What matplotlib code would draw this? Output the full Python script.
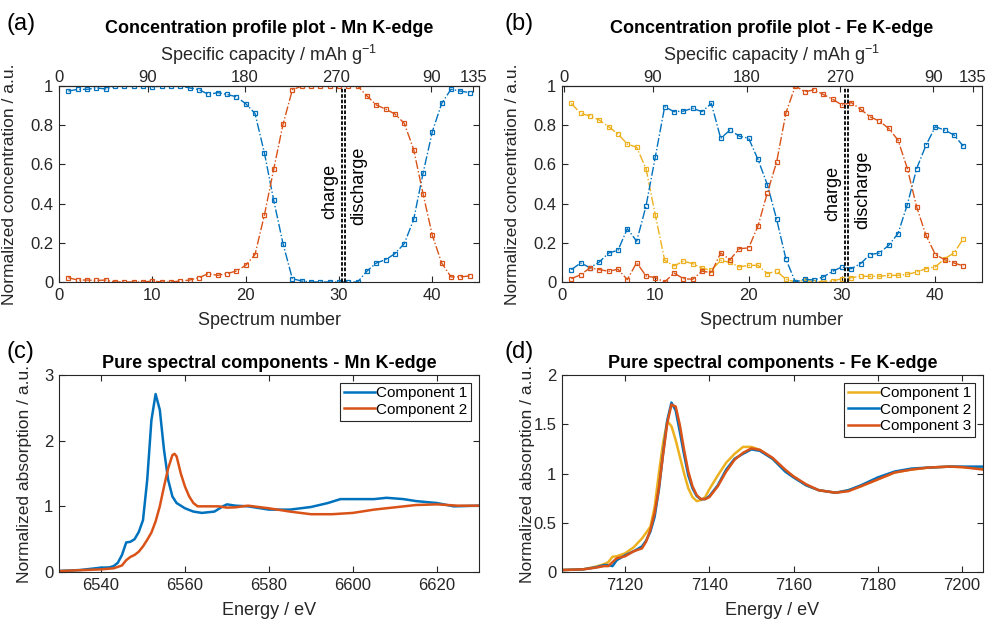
import matplotlib
matplotlib.use("Agg")
import matplotlib.pyplot as plt

plt.rcParams["font.family"] = ["Liberation Sans", "DejaVu Sans"]
plt.rcParams["mathtext.default"] = "regular"

BLUE = "#0072BD"
ORANGE = "#D95319"
YELLOW = "#EDB120"
GREY = "#262626"

# concentration profiles (spectrum number -> fraction)
mn_spectra = list(range(1, 45))
mn_comp1 = [0.974, 0.983, 0.983, 0.99, 0.985, 1.0, 1.0, 1.0, 1.0, 0.995, 1.0, 1.0, 1.0, 0.99, 0.982,
            0.957, 0.966, 0.957, 0.945, 0.91, 0.86, 0.66, 0.418, 0.196, 0.017, 0.005, 0.0, 0.0, 0.0, 0.0,
            0.0, 0.0, 0.056, 0.097, 0.114, 0.145, 0.196, 0.319, 0.554, 0.767, 0.911, 0.983, 0.974, 0.966]
mn_comp2 = [0.022, 0.01, 0.01, 0.008, 0.01, 0.0, 0.0, 0.0, 0.0, 0.005, 0.0, 0.0, 0.005, 0.01, 0.022,
            0.043, 0.034, 0.043, 0.056, 0.085, 0.14, 0.34, 0.574, 0.804, 0.98, 1.0, 1.0, 1.0, 1.0, 1.0,
            1.0, 1.0, 0.949, 0.903, 0.882, 0.857, 0.809, 0.676, 0.451, 0.238, 0.097, 0.026, 0.026, 0.031]

fe_spectra = list(range(1, 44))
fe_comp1 = [0.911, 0.86, 0.847, 0.826, 0.792, 0.755, 0.704, 0.687, 0.579, 0.341, 0.111, 0.082, 0.106,
            0.094, 0.07, 0.06, 0.11, 0.10, 0.077, 0.085, 0.085, 0.043, 0.055, 0.014, 0.0, 0.009, 0.0,
            0.003, 0.005, 0.017, 0.022, 0.029, 0.029, 0.029, 0.034, 0.034, 0.039, 0.051, 0.068, 0.077,
            0.119, 0.148, 0.221]
fe_comp2 = [0.063, 0.097, 0.073, 0.102, 0.148, 0.162, 0.272, 0.208, 0.387, 0.639, 0.894, 0.869, 0.872,
            0.886, 0.869, 0.911, 0.733, 0.775, 0.744, 0.733, 0.625, 0.497, 0.319, 0.116, 0.0, 0.014, 0.01,
            0.026, 0.055, 0.077, 0.068, 0.094, 0.14, 0.148, 0.187, 0.247, 0.395, 0.579, 0.698, 0.792,
            0.775, 0.75, 0.693]
fe_comp3 = [0.017, 0.037, 0.072, 0.063, 0.055, 0.065, 0.012, 0.099, 0.031, 0.022, 0.0, 0.046, 0.017,
            0.014, 0.055, 0.048, 0.148, 0.114, 0.17, 0.174, 0.286, 0.455, 0.613, 0.864, 1.0, 0.971, 0.98,
            0.957, 0.932, 0.903, 0.915, 0.881, 0.843, 0.821, 0.784, 0.724, 0.579, 0.383, 0.238, 0.14,
            0.114, 0.097, 0.082]

# top axis: specific capacity labels at spectrum positions
mn_cap_pos = [0, 9.5, 19.9, 29.7, 39.9, 44.4]
fe_cap_pos = [0.2, 9.7, 19.8, 29.8, 39.8, 44.0]
cap_labels = ["0", "90", "180", "270", "90", "135"]

# pure spectral components
mn_energy = [6530, 6535, 6540, 6542, 6543, 6544, 6545, 6546, 6547, 6548, 6549, 6550, 6551, 6552, 6553,
             6554, 6555, 6556, 6557, 6558, 6560, 6562, 6564, 6567, 6569, 6570, 6572, 6575, 6580, 6585,
             6590, 6594, 6597, 6600, 6605, 6608, 6612, 6615, 6620, 6624, 6630]
mn_spec1 = [0.015, 0.03, 0.066, 0.07, 0.09, 0.14, 0.26, 0.45, 0.46, 0.5, 0.61, 0.79, 1.4, 2.31, 2.71,
            2.47, 1.86, 1.4, 1.15, 1.05, 0.97, 0.92, 0.9, 0.92, 1.0, 1.03, 1.01, 1.0, 0.95, 0.95,
            0.99, 1.05, 1.11, 1.11, 1.11, 1.13, 1.11, 1.08, 1.05, 1.0, 1.01]
mn_energy2 = [6530, 6540, 6543, 6545, 6546, 6547, 6548, 6549, 6550, 6551, 6552, 6553, 6554, 6555, 6556,
              6557, 6557.5, 6558, 6559, 6560, 6561, 6562, 6563, 6565, 6568, 6570, 6572, 6575, 6580, 6585,
              6590, 6595, 6600, 6605, 6610, 6615, 6620, 6625, 6630]
mn_spec2 = [0.015, 0.04, 0.056, 0.1, 0.18, 0.23, 0.26, 0.31, 0.39, 0.49, 0.6, 0.77, 1.0, 1.3, 1.58,
            1.78, 1.8, 1.76, 1.5, 1.3, 1.15, 1.05, 1.0, 1.0, 1.0, 0.98, 0.985, 1.01, 0.97, 0.92,
            0.88, 0.88, 0.9, 0.95, 0.985, 1.02, 1.03, 1.01, 1.01]

fe_energy = [7105, 7110, 7113, 7115, 7116, 7117, 7118, 7120, 7122, 7124, 7125, 7126, 7127, 7128, 7129,
             7130, 7131, 7132, 7133, 7134, 7135, 7136, 7137, 7138, 7139, 7140, 7142, 7144, 7146, 7148,
             7150, 7152, 7155, 7158, 7160, 7163, 7166, 7170, 7173, 7176, 7180, 7184, 7188, 7192, 7197,
             7200, 7205]
fe_spec1 = [0.02, 0.027, 0.054, 0.08, 0.1, 0.155, 0.16, 0.19, 0.25, 0.34, 0.4, 0.46, 0.66, 1.0, 1.31,
            1.53, 1.48, 1.34, 1.17, 1.0, 0.85, 0.76, 0.72, 0.73, 0.76, 0.84, 0.98, 1.11, 1.2, 1.27,
            1.27, 1.24, 1.15, 1.03, 0.97, 0.88, 0.83, 0.805, 0.83, 0.87, 0.94, 1.01, 1.04, 1.06, 1.07,
            1.065, 1.05]
fe_spec2 = [0.02, 0.027, 0.047, 0.07, 0.07, 0.06, 0.12, 0.17, 0.21, 0.26, 0.32, 0.41, 0.56, 0.83, 1.2,
            1.54, 1.72, 1.64, 1.42, 1.19, 0.98, 0.85, 0.77, 0.74, 0.74, 0.77, 0.88, 1.04, 1.15, 1.2,
            1.245, 1.23, 1.15, 1.02, 0.96, 0.88, 0.83, 0.805, 0.83, 0.88, 0.96, 1.02, 1.05, 1.06, 1.07,
            1.07, 1.07]
fe_spec3 = [0.02, 0.027, 0.044, 0.06, 0.06, 0.1, 0.14, 0.16, 0.21, 0.24, 0.31, 0.43, 0.6, 0.85, 1.19,
            1.51, 1.7, 1.68, 1.49, 1.24, 1.02, 0.87, 0.78, 0.74, 0.74, 0.76, 0.87, 1.02, 1.14, 1.21,
            1.255, 1.24, 1.16, 1.04, 0.97, 0.89, 0.83, 0.805, 0.82, 0.87, 0.94, 1.01, 1.04, 1.06, 1.07,
            1.065, 1.04]

W, H = 990, 624


def px_axes(left, top, right, bottom):
    return [left / W, 1 - bottom / H, (right - left) / W, (bottom - top) / H]


def style_axes(ax):
    for spine in ax.spines.values():
        spine.set_color(GREY)
        spine.set_linewidth(0.8)
    ax.tick_params(direction="in", colors=GREY, labelcolor=GREY, labelsize=12,
                   length=4, width=0.8, right=True, pad=4)


def concentration_panel(ax, x, series, cap_pos, title, charge_xy, discharge_xy):
    for y, color in series:
        ax.plot(x, y, linestyle="-.", color=color, linewidth=1.0, marker="s",
                markersize=3.5, markerfacecolor="none", markeredgewidth=0.9)
    ax.axvline(30.36, color="k", linestyle="--", linewidth=1.3, dashes=(2, 1))
    ax.axvline(30.64, color="k", linestyle="--", linewidth=1.3, dashes=(2, 1))
    ax.text(*charge_xy, "charge", rotation=90, ha="center", va="center", fontsize=13, color="k")
    ax.text(*discharge_xy, "discharge", rotation=90, ha="center", va="center", fontsize=13, color="k")
    ax.set_xlim(0, 45)
    ax.set_ylim(0, 1)
    ax.set_xticks([0, 10, 20, 30, 40])
    ax.set_yticks([0, 0.2, 0.4, 0.6, 0.8, 1])
    ax.set_yticklabels(["0", "0.2", "0.4", "0.6", "0.8", "1"])
    style_axes(ax)
    ax.set_xlabel("Spectrum number", fontsize=13, color=GREY, labelpad=7)
    ax.set_ylabel("Normalized concentration / a.u.", fontsize=12.5, color=GREY)
    ax.yaxis.set_label_coords(-0.1, 0.5)
    top = ax.secondary_xaxis("top")
    top.set_xticks(cap_pos)
    top.set_xticklabels(cap_labels)
    top.tick_params(direction="in", colors=GREY, labelcolor=GREY, labelsize=12,
                    length=4, width=0.8, pad=1)
    top.set_xlabel(r"Specific capacity / mAh g$^{-1}$", fontsize=13, color=GREY, labelpad=6)
    ax.set_title(title, fontsize=13, fontweight="bold", pad=38)


def spectra_panel(ax, curves, xlim, xticks, ylim, yticks, ylabels, title):
    for x, y, color, label in curves:
        ax.plot(x, y, color=color, linewidth=1.8, label=label)
    ax.set_xlim(*xlim)
    ax.set_ylim(*ylim)
    ax.set_xticks(xticks)
    ax.set_yticks(yticks)
    ax.set_yticklabels(ylabels)
    style_axes(ax)
    ax.tick_params(top=True)
    ax.set_xlabel("Energy / eV", fontsize=13, color=GREY, labelpad=7)
    ax.set_ylabel("Normalized absorption / a.u.", fontsize=12.5, color=GREY)
    ax.yaxis.set_label_coords(-0.065, 0.5)
    ax.set_title(title, fontsize=13, fontweight="bold", pad=5)
    leg = ax.legend(loc="upper right", fontsize=11, fancybox=False, framealpha=1,
                    edgecolor=GREY, handlelength=2.0, handletextpad=0.1,
                    borderpad=0.25, labelspacing=0.15, borderaxespad=0.5)
    leg.get_frame().set_linewidth(0.8)


fig = plt.figure(figsize=(9.9, 6.24), dpi=100)
ax_a = fig.add_axes(px_axes(59, 86, 479, 282))
ax_b = fig.add_axes(px_axes(562, 86, 982, 282))
ax_c = fig.add_axes(px_axes(59, 375, 479, 572))
ax_d = fig.add_axes(px_axes(562, 375, 983, 572))

concentration_panel(ax_a, mn_spectra, [(mn_comp1, BLUE), (mn_comp2, ORANGE)], mn_cap_pos,
                    "Concentration profile plot - Mn K-edge", (29.0, 0.46), (32.1, 0.49))
concentration_panel(ax_b, fe_spectra, [(fe_comp1, YELLOW), (fe_comp2, BLUE), (fe_comp3, ORANGE)],
                    fe_cap_pos, "Concentration profile plot - Fe K-edge", (29.0, 0.45), (32.2, 0.47))

spectra_panel(ax_c, [(mn_energy, mn_spec1, BLUE, "Component 1"),
                     (mn_energy2, mn_spec2, ORANGE, "Component 2")],
              (6530, 6630), [6540, 6560, 6580, 6600, 6620], (0, 3), [0, 1, 2, 3],
              ["0", "1", "2", "3"], "Pure spectral components - Mn K-edge")
spectra_panel(ax_d, [(fe_energy, fe_spec1, YELLOW, "Component 1"),
                     (fe_energy, fe_spec2, BLUE, "Component 2"),
                     (fe_energy, fe_spec3, ORANGE, "Component 3")],
              (7105, 7205), [7120, 7140, 7160, 7180, 7200], (0, 2), [0, 0.5, 1, 1.5, 2],
              ["0", "0.5", "1", "1.5", "2"], "Pure spectral components - Fe K-edge")

for label, (x, y) in zip(["(a)", "(b)", "(c)", "(d)"], [(6, 24), (505, 24), (6, 352), (505, 352)]):
    fig.text(x / W, 1 - y / H, label, fontsize=17, color="k", ha="left", va="center")

fig.savefig("out.png", dpi=100)
